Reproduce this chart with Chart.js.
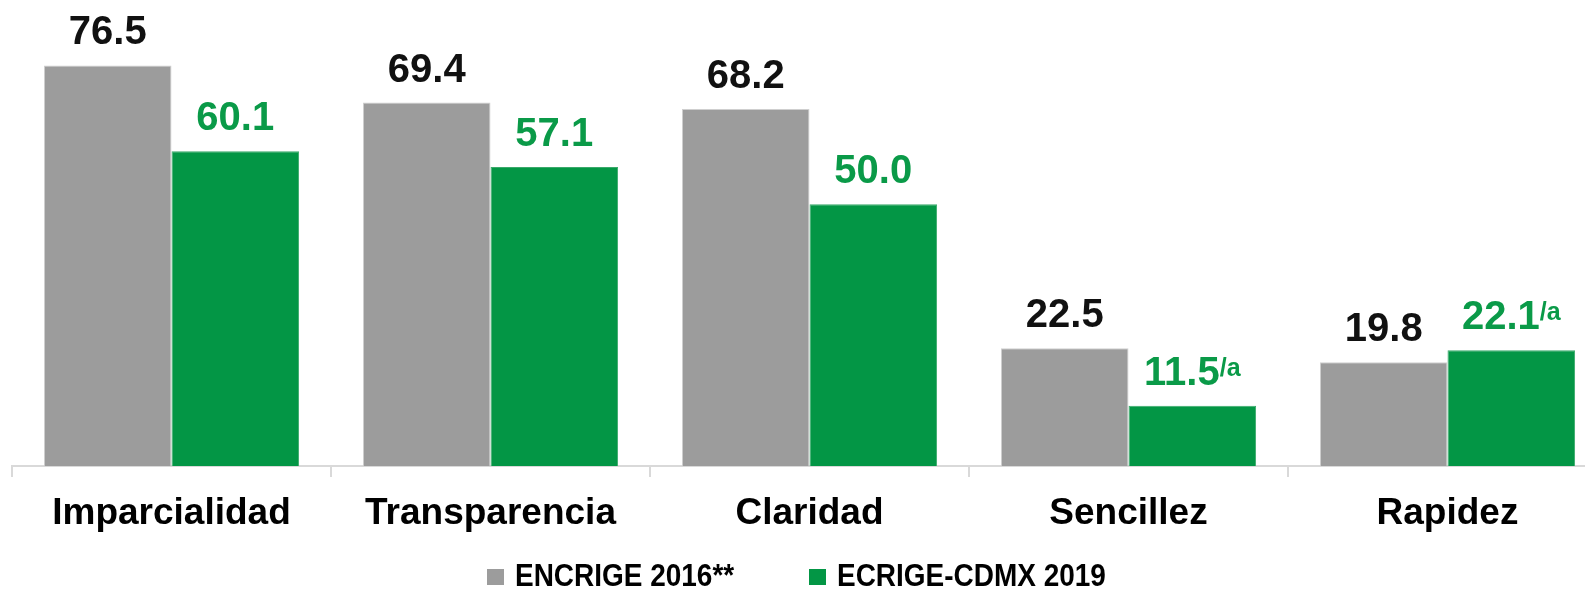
<!DOCTYPE html>
<html>
<head>
<meta charset="utf-8">
<script src="https://cdn.jsdelivr.net/npm/chart.js@4.4.1/dist/chart.umd.min.js"></script>
<style>
  html, body { margin: 0; padding: 0; background: #ffffff; overflow: hidden; }
  #wrap { width: 1610px; height: 589px; }
</style>
</head>
<body>
<div id="wrap"><canvas id="c" width="1610" height="589"></canvas></div>
<script>
const categories = ['Imparcialidad', 'Transparencia', 'Claridad', 'Sencillez', 'Rapidez'];
const encrige2016 = [76.5, 69.4, 68.2, 22.5, 19.8];
const ecrige2019 = [60.1, 57.1, 50.0, 11.5, 22.1];
const notes2016 = ['', '', '', '', ''];
const notes2019 = ['', '', '', '/a', '/a'];
const seriesNames = ['ENCRIGE 2016**', 'ECRIGE-CDMX 2019'];

const GREY = '#9c9c9c';
const GREEN = '#039645';
const LABEL_GREEN = '#0a9a48';

const valueLabels = {
  id: 'valueLabels',
  afterDatasetsDraw(chart) {
    const ctx = chart.ctx;
    const notes = [notes2016, notes2019];
    const colors = ['#111111', LABEL_GREEN];
    chart.data.datasets.forEach((ds, di) => {
      const meta = chart.getDatasetMeta(di);
      meta.data.forEach((bar, i) => {
        const main = ds.data[i].toFixed(1);
        const sup = notes[di][i];
        ctx.save();
        ctx.fillStyle = colors[di];
        ctx.textBaseline = 'alphabetic';
        ctx.textAlign = 'left';
        ctx.font = 'bold 40px "Liberation Sans", Arial, sans-serif';
        const wMain = ctx.measureText(main).width;
        ctx.font = 'bold 25px "Liberation Sans", Arial, sans-serif';
        const wSup = sup ? ctx.measureText(sup).width : 0;
        const total = wMain + wSup;
        const x0 = bar.x - total / 2;
        const yb = bar.y - 21;
        ctx.font = 'bold 40px "Liberation Sans", Arial, sans-serif';
        ctx.fillText(main, x0, yb);
        if (sup) {
          ctx.font = 'bold 25px "Liberation Sans", Arial, sans-serif';
          ctx.fillText(sup, x0 + wMain, yb - 9);
        }
        ctx.restore();
      });
    });
  }
};

const customLegend = {
  id: 'customLegend',
  afterDraw(chart) {
    const ctx = chart.ctx;
    const items = [
      { name: seriesNames[0], color: GREY, box: 487, text: 515 },
      { name: seriesNames[1], color: GREEN, box: 809, text: 837 }
    ];
    items.forEach(it => {
      ctx.save();
      ctx.fillStyle = it.color;
      ctx.fillRect(it.box, 569, 17, 16);
      ctx.fillStyle = '#000000';
      ctx.font = 'bold 32px "Liberation Sans", Arial, sans-serif';
      ctx.textBaseline = 'alphabetic';
      ctx.textAlign = 'left';
      ctx.translate(it.text, 586);
      ctx.scale(0.874, 1);
      ctx.fillText(it.name, 0, 0);
      ctx.restore();
    });
  }
};

new Chart(document.getElementById('c'), {
  type: 'bar',
  data: {
    labels: categories,
    datasets: [
      { label: seriesNames[0], data: encrige2016, backgroundColor: GREY, borderColor: '#cfcfcf', borderWidth: 1,
        categoryPercentage: 0.8, barPercentage: 1.0 },
      { label: seriesNames[1], data: ecrige2019, backgroundColor: GREEN, borderColor: '#3aa96a', borderWidth: 1,
        categoryPercentage: 0.8, barPercentage: 1.0 }
    ]
  },
  options: {
    responsive: false,
    animation: false,
    devicePixelRatio: 1,
    layout: { padding: { left: 12, right: 3, top: 0, bottom: 0 } },
    plugins: {
      legend: { display: false },
      tooltip: { enabled: false },
      title: { display: false }
    },
    scales: {
      x: {
        offset: true,
        grid: { display: true, drawOnChartArea: false, drawTicks: true, tickLength: 11, color: '#d9d9d9', lineWidth: 2, offset: true },
        border: { display: true, color: '#d9d9d9', width: 2 },
        ticks: { color: '#000000', padding: 15, font: { family: '"Liberation Sans", Arial, sans-serif', size: 37, weight: 'bold' } },
        afterFit(scale) { scale.height = 123; }
      },
      y: {
        display: false,
        min: 0,
        max: 89
      }
    }
  },
  plugins: [valueLabels, customLegend]
});
</script>
</body>
</html>
